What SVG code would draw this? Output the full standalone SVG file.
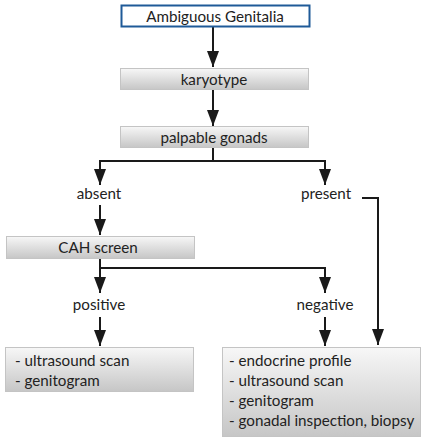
<svg xmlns="http://www.w3.org/2000/svg" width="421" height="438" viewBox="0 0 421 438">
<style>
text{font-family:Lato,"Open Sans",sans-serif;font-size:15.2px;fill:#222}
.c{text-anchor:middle}
.box{fill:url(#g);stroke:#c4c4c4;stroke-width:1}
.ln{fill:none;stroke:#1a1a1a;stroke-width:2}
</style>
<defs>
<linearGradient id="g" x1="0" y1="0" x2="0" y2="1">
<stop offset="0" stop-color="#f7f7f7"/>
<stop offset="1" stop-color="#c6c6c6"/>
</linearGradient>
<marker id="a" viewBox="0 0 16 12" refX="16" refY="6" markerWidth="16" markerHeight="12" markerUnits="userSpaceOnUse" orient="auto">
<path d="M0,0L16,6L0,12z" fill="#1a1a1a"/>
</marker>
</defs>
<g id="connectors">
<path class="ln" d="M213,27V67" marker-end="url(#a)"/>
<path class="ln" d="M213,90V126" marker-end="url(#a)"/>
<path class="ln" d="M213,147V161M99,161H326"/>
<path class="ln" d="M100,160V185" marker-end="url(#a)"/>
<path class="ln" d="M325,160V185" marker-end="url(#a)"/>
<path class="ln" d="M362,198H378V345" marker-end="url(#a)"/>
<path class="ln" d="M100,205V235" marker-end="url(#a)"/>
<path class="ln" d="M100,259V268H325V293" marker-end="url(#a)"/>
<path class="ln" d="M100,268V293" marker-end="url(#a)"/>
<path class="ln" d="M100,317V346" marker-end="url(#a)"/>
<path class="ln" d="M325,317V346" marker-end="url(#a)"/>
</g>
<g id="n-ambiguous">
<rect x="121.5" y="5.5" width="188" height="21" fill="#fff" stroke="#1f5a98" stroke-width="2"/>
<text class="c" x="215" y="21.5">Ambiguous Genitalia</text>
</g>
<g id="n-karyotype">
<rect class="box" x="120.5" y="68.5" width="188" height="21"/>
<text class="c" x="214" y="84.5">karyotype</text>
</g>
<g id="n-gonads">
<rect class="box" x="120.5" y="126.5" width="188" height="21"/>
<text class="c" x="214" y="142.5">palpable gonads</text>
</g>
<g id="n-absent"><text class="c" x="99" y="199">absent</text></g>
<g id="n-present"><text class="c" x="326" y="199">present</text></g>
<g id="n-cah">
<rect class="box" x="6.5" y="236.5" width="188" height="22"/>
<text class="c" x="98" y="253">CAH screen</text>
</g>
<g id="n-positive"><text class="c" x="99" y="310">positive</text></g>
<g id="n-negative"><text class="c" x="325" y="310">negative</text></g>
<g id="n-left">
<rect class="box" x="5.5" y="347.5" width="188" height="44"/>
<text x="15" y="366">- ultrasound scan</text>
<text x="15" y="386">- genitogram</text>
</g>
<g id="n-right">
<rect class="box" x="222.5" y="347.5" width="198" height="89"/>
<text x="229" y="366">- endocrine profile</text>
<text x="229" y="386">- ultrasound scan</text>
<text x="229" y="406">- genitogram</text>
<text x="229" y="426">- gonadal inspection, biopsy</text>
</g>
</svg>
